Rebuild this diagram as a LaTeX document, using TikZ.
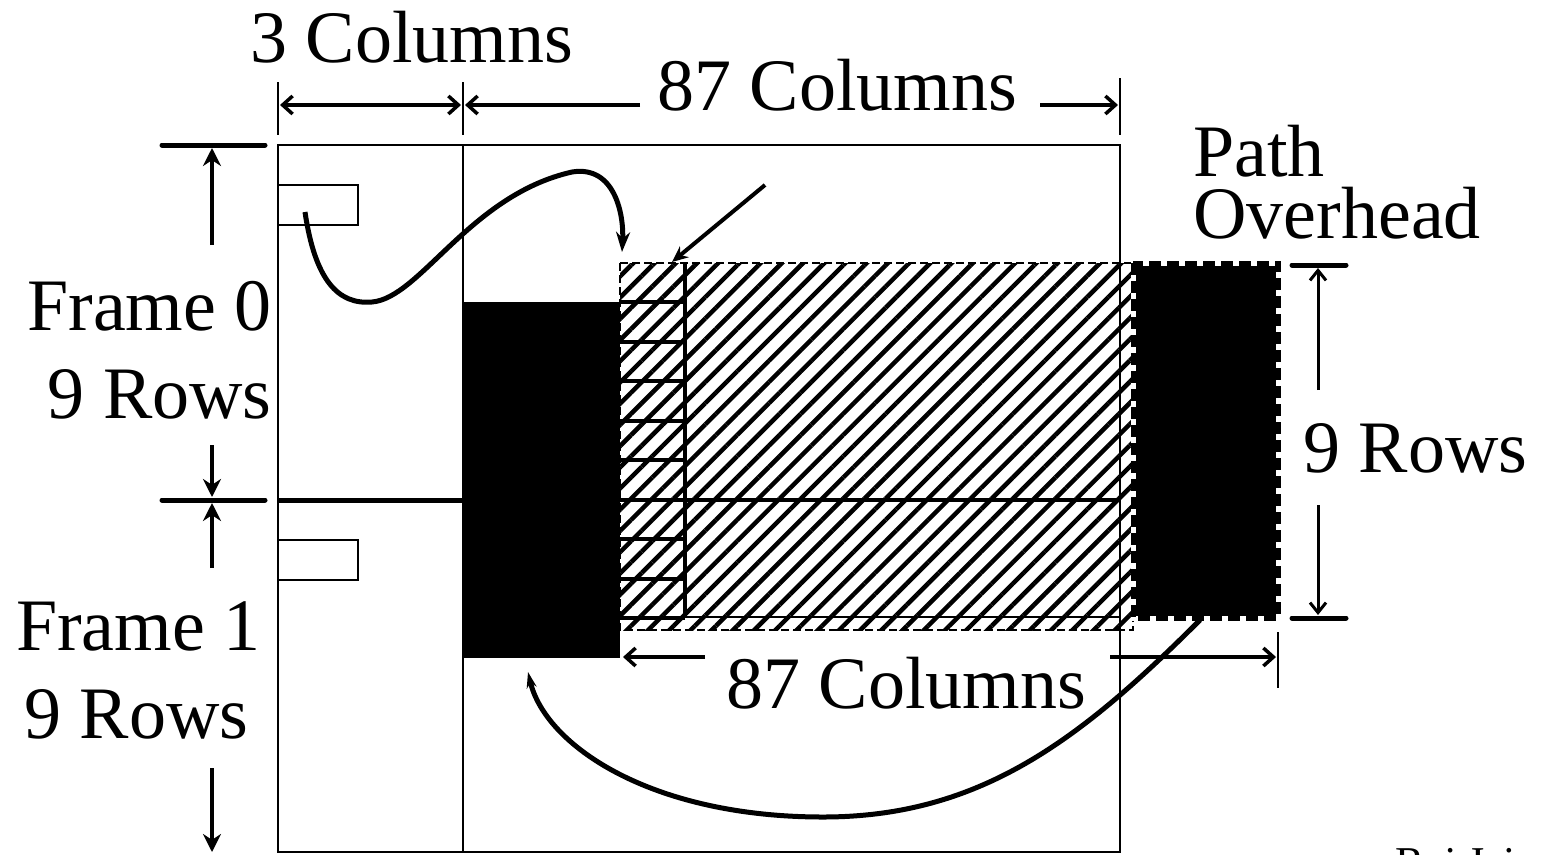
\documentclass[tikz,border=0pt]{standalone}
\usepackage{fontspec}
\setmainfont{Liberation Serif}
\usetikzlibrary{arrows.meta, patterns.meta}

\begin{document}
\begin{tikzpicture}[
		x=1pt, y=-1pt,
		every node/.style={inner sep=0pt, font=\fontsize{74}{63}\selectfont},
		boxline/.style={line width=2pt},
		dimtick/.style={line width=5pt, line cap=round},
		thintick/.style={line width=2.5pt},
		dimarrow/.style={line width=4pt, -{Stealth[length=18pt, width=18pt]}},
		dimbarb/.style={line width=3.5pt, -{Straight Barb[length=10pt, width=18pt]}},
		ptrarrow/.style={line width=5pt, -{Stealth[length=20pt, width=14pt]}},
		hatch/.style={pattern={Lines[angle=45, distance=15pt, line width=4.5pt]}}
		]
		\useasboundingbox (0,0) rectangle (1541,854);
		
		% -------- Frames --------
		\draw[boxline] (278,145) rectangle (1120,852);
		\draw[boxline] (463,145) -- (463,852);
		\draw[boxline] (278,185) rectangle (358,225);
		\draw[boxline] (278,540) rectangle (358,580);
		\draw[line width=5pt] (278,500) -- (463,500);
		
		% -------- SPE --------
		\fill (463,302) rectangle (620,658);
		\path[hatch] (620,263) rectangle (1133,630);
		\draw[line width=2.5pt, dash pattern=on 8pt off 4pt] (620,263) rectangle (1133,630);
		\draw[boxline] (620,617) -- (1120,617) -- (1120,263);
		\draw[line width=4pt] (685,263) -- (685,618);
		\foreach \k in {1,...,9}
			\draw[line width=4pt] (620,263+\k*39.44) -- (685,263+\k*39.44);
		\draw[line width=4pt] (685,500) -- (1120,500);
		
		% -------- Path overhead --------
		\fill (1133,263) rectangle (1278,618);
		\draw[white, line width=5pt] (1133,263) rectangle (1278,618);
		\draw[line width=5pt, dash pattern=on 12pt off 6pt] (1133,263) rectangle (1278,618);
		
		% -------- Column dimensions --------
		\draw[thintick] (278,82) -- (278,135);
		\draw[thintick] (463,82) -- (463,135);
		\draw[thintick] (1120,78) -- (1120,135);
		\draw[dimbarb, {Straight Barb[length=10pt, width=18pt]}-{Straight Barb[length=10pt, width=18pt]}] (280,105) -- (461,105);
		\draw[dimbarb] (640,105) -- (465,105);
		\draw[dimbarb] (1040,105) -- (1118,105);
		\node[anchor=base west] (cols3) at (250,62) {3 Columns};
		\node[anchor=base west] (cols87) at (657,110) {87 Columns};
		
		\draw[thintick] (1278,632) -- (1278,688);
		\draw[dimbarb] (705,657) -- (623,657);
		\draw[dimbarb] (1110,657) -- (1276,657);
		\node[anchor=base west] (ohcols) at (726,708) {87 Columns};
		
		% -------- Row dimensions --------
		\draw[dimtick] (162,145) -- (265,145);
		\draw[dimtick] (162,500) -- (265,500);
		\draw[dimarrow] (212,245) -- (212,148);
		\draw[dimarrow] (212,445) -- (212,497);
		\draw[dimarrow] (212,568) -- (212,503);
		\draw[dimarrow] (212,768) -- (212,852);
		\node[anchor=base east] (f0) at (272,330) {Frame 0};
		\node[anchor=base east] (f0rows) at (272,418) {9 Rows};
		\node[anchor=base west] (f1) at (16,650) {Frame 1};
		\node[anchor=base west] (f1rows) at (24,738) {9 Rows};
		
		\draw[dimtick] (1292,265) -- (1346,265);
		\draw[dimtick] (1292,618) -- (1346,618);
		\draw[line width=3pt, -{Straight Barb[length=10pt, width=16pt]}] (1318,390) -- (1318,268);
		\draw[line width=3pt, -{Straight Barb[length=10pt, width=16pt]}] (1318,505) -- (1318,615);
		\node[anchor=base west] (ohrows) at (1303,472) {9 Rows};
		\node[anchor=base west] (path) at (1193,176) {Path};
		\node[anchor=base west] (overhead) at (1193,238) {Overhead};
		
		% -------- Pointers --------
		\coordinate (ptr0) at (305,212);
		\coordinate (spe) at (622,252);
		\coordinate (j1) at (765,185);
		\coordinate (j1end) at (672,262);
		\coordinate (ohb) at (1200,620);
		\coordinate (speb) at (528,672);
		\draw[ptrarrow] (ptr0) .. controls (315,280) and (338,305) .. (372,302)
			.. controls (420,298) and (470,195) .. (572,172)
			.. controls (615,165) and (624,215) .. (spe);
		\draw[line width=4pt, -{Stealth[length=16pt, width=14pt]}] (j1) -- (j1end);
		\draw[line width=5pt, -{Stealth[length=16pt, width=10pt]}] (ohb) .. controls (1080,740) and (980,817) .. (823,817)
			.. controls (650,817) and (545,745) .. (speb);
		
		\node[anchor=base west, font=\fontsize{44}{46}\selectfont] (author) at (1395,877) {Raj Jain};
		
\end{tikzpicture}
\end{document}
